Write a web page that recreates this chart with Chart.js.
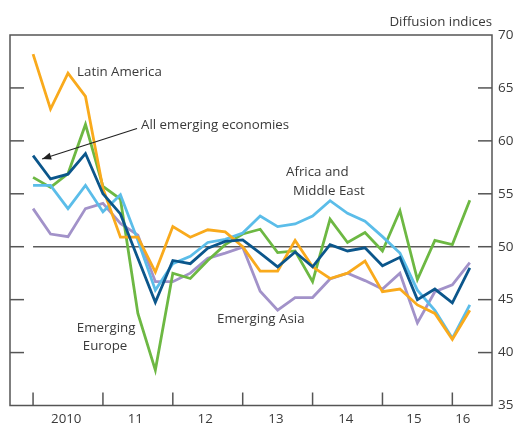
<!DOCTYPE html>
<html><head><meta charset="utf-8">
<script src="https://cdn.jsdelivr.net/npm/chart.js@4/dist/chart.umd.min.js"></script>
<style>html,body{margin:0;padding:0;background:#fff;}#wrap{width:518px;height:423px;}</style>
</head><body><div id="wrap"><canvas id="c" width="518" height="423"></canvas></div>
<script>
// Quarterly, 2010 Q1 .. 2016 Q2 (index 0..25)
const quarters = ["2010Q1","2010Q2","2010Q3","2010Q4","2011Q1","2011Q2","2011Q3","2011Q4","2012Q1","2012Q2","2012Q3","2012Q4","2013Q1","2013Q2","2013Q3","2013Q4","2014Q1","2014Q2","2014Q3","2014Q4","2015Q1","2015Q2","2015Q3","2015Q4","2016Q1","2016Q2"];
const latinAmerica = [68.2,63.0,66.4,64.2,55.5,50.9,50.9,47.6,51.9,50.9,51.6,51.4,50.0,47.7,47.7,50.6,48.1,47.0,47.5,48.65,45.75,46.0,44.5,43.7,41.25,44.0];
const emergingEurope = [56.55,55.6,56.9,61.55,55.7,54.5,43.7,38.35,47.5,47.0,48.7,50.2,51.2,51.65,49.45,49.6,46.7,52.6,50.4,51.35,49.6,53.4,46.9,50.6,50.2,54.4];
const africaMiddleEast = [55.8,55.8,53.6,55.8,53.3,54.9,50.6,45.9,48.4,49.1,50.4,50.7,51.3,52.9,51.9,52.15,52.9,54.35,53.15,52.4,50.95,49.4,45.9,44.0,41.35,44.5];
const emergingAsia = [53.6,51.2,50.95,53.6,54.1,52.2,51.1,46.7,46.7,47.5,48.9,49.4,49.95,45.8,44.0,45.2,45.2,46.95,47.5,46.8,46.0,47.5,42.8,45.75,46.4,48.5];
const allEmerging = [58.6,56.4,56.85,58.8,55.0,53.1,48.9,44.75,48.7,48.4,49.85,50.5,50.65,49.4,48.1,49.5,48.1,50.2,49.6,49.9,48.2,49.0,45.0,46.0,44.7,48.0];
const yearLabels = ["2010","11","12","13","14","15","16"];
const yearLabelPos = [1.9,5.85,9.85,13.9,17.9,21.8,24.6];
const yearStarts = [0,4,8,12,16,20,24];
const yTicks = [35,40,45,50,55,60,65,70];

const FONT = "'Open Sans', 'Noto Sans', sans-serif";
const TXT = '#3a3a3a';
const AX = '#555';

function pts(arr){ return arr.map((v,i)=>({x:i,y:v})); }

const annotations = [
  {text:"Latin America", x:2.52, y:66.5, align:'left'},
  {text:"All emerging economies", x:6.18, y:61.5, align:'left'},
  {text:"Africa and", x:14.48, y:57.0, align:'left'},
  {text:"Middle East", x:14.88, y:55.26, align:'left'},
  {text:"Emerging Asia", x:10.53, y:43.17, align:'left'},
  {text:"Emerging", x:4.18, y:42.3, align:'center'},
  {text:"Europe", x:4.12, y:40.56, align:'center'}
];
const arrow = {from:{x:5.95,y:61.17}, to:{x:0.52,y:58.29}};

const decor = {
  id:'decor',
  beforeDatasetsDraw(chart){
    const ctx = chart.ctx, a = chart.chartArea, xs = chart.scales.x, ys = chart.scales.y;
    ctx.save();
    ctx.strokeStyle = AX; ctx.lineWidth = 1.5;
    ctx.strokeRect(a.left, a.top, a.right-a.left, a.bottom-a.top);
    yTicks.forEach(v=>{
      if (v===35||v===70) return;
      const py = ys.getPixelForValue(v);
      ctx.beginPath(); ctx.moveTo(a.left,py); ctx.lineTo(a.left+14,py); ctx.stroke();
      ctx.beginPath(); ctx.moveTo(a.right,py); ctx.lineTo(a.right-14,py); ctx.stroke();
    });
    yearStarts.forEach(v=>{
      const px = xs.getPixelForValue(v);
      ctx.beginPath(); ctx.moveTo(px,a.bottom); ctx.lineTo(px,a.bottom-13); ctx.stroke();
    });
    ctx.restore();
  },
  afterDatasetsDraw(chart){
    const ctx = chart.ctx, a = chart.chartArea, xs = chart.scales.x, ys = chart.scales.y;
    ctx.save();
    ctx.fillStyle = TXT; ctx.font = "13.3px " + FONT; ctx.textBaseline = 'middle';
    annotations.forEach(t=>{
      ctx.textAlign = t.align;
      ctx.fillText(t.text, xs.getPixelForValue(t.x), ys.getPixelForValue(t.y));
    });
    ctx.textAlign = 'right';
    ctx.fillText("Diffusion indices", a.right, a.top - 13);
    const x1 = xs.getPixelForValue(arrow.from.x), y1 = ys.getPixelForValue(arrow.from.y);
    const x2 = xs.getPixelForValue(arrow.to.x), y2 = ys.getPixelForValue(arrow.to.y);
    ctx.strokeStyle = '#222'; ctx.fillStyle = '#222'; ctx.lineWidth = 1.2;
    ctx.beginPath(); ctx.moveTo(x1,y1); ctx.lineTo(x2,y2); ctx.stroke();
    const ang = Math.atan2(y2-y1, x2-x1), L = 9, W = 3.5;
    ctx.beginPath();
    ctx.moveTo(x2,y2);
    ctx.lineTo(x2 - L*Math.cos(ang) + W*Math.sin(ang), y2 - L*Math.sin(ang) - W*Math.cos(ang));
    ctx.lineTo(x2 - L*Math.cos(ang) - W*Math.sin(ang), y2 - L*Math.sin(ang) + W*Math.cos(ang));
    ctx.closePath(); ctx.fill();
    ctx.restore();
  }
};

const lineDs = (label, data, color, order) => ({
  label, data: pts(data), borderColor: color, backgroundColor: color,
  borderWidth: 2.8, pointRadius: 0, tension: 0, order, borderJoinStyle:'miter'
});

new Chart(document.getElementById('c'), {
  type: 'line',
  data: {
    datasets: [
      {label:'fifty', data:[{x:0,y:50},{x:25,y:50}], borderColor:'#5a5a5a', borderWidth:1.6, pointRadius:0, order:10},
      lineDs('Emerging Asia', emergingAsia, '#A292C9', 5),
      lineDs('Emerging Europe', emergingEurope, '#6DB843', 4),
      lineDs('Africa and Middle East', africaMiddleEast, '#5BBDE9', 3),
      lineDs('Latin America', latinAmerica, '#F9AA1C', 2),
      lineDs('All emerging economies', allEmerging, '#0B568B', 1)
    ]
  },
  options: {
    responsive: false, animation: false, devicePixelRatio: 1,
    layout: { padding: { left: 10, top: 35, right: 0, bottom: 0 } },
    plugins: { legend: { display: false }, tooltip: { enabled: false } },
    scales: {
      x: {
        type: 'linear', min: -1.32, max: 26.27,
        grid: { display: false, drawTicks: false },
        border: { display: false },
        afterBuildTicks(s){ s.ticks = yearLabelPos.map(v=>({value:v})); },
        afterFit(s){ s.height = 423 - 405.5; },
        ticks: {
          autoSkip: false, maxRotation: 0, padding: 6, color: TXT,
          font: { family: FONT, size: 13.3 },
          callback(v){ const i = yearLabelPos.indexOf(v); return i>=0 ? yearLabels[i] : ''; }
        }
      },
      y: {
        position: 'right', min: 35, max: 70,
        grid: { display: false, drawTicks: false },
        border: { display: false },
        afterBuildTicks(s){ s.ticks = yTicks.map(v=>({value:v})); },
        afterFit(s){ s.width = 518 - 492; },
        ticks: { padding: 6, color: TXT, font: { family: FONT, size: 13.5 } }
      }
    }
  },
  plugins: [decor]
});
</script>
</body></html>
